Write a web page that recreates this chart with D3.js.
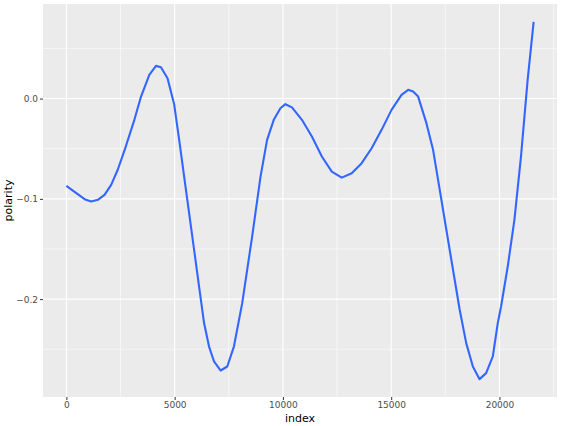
<!DOCTYPE html>
<html>
<head>
<meta charset="utf-8">
<script src="https://cdn.jsdelivr.net/npm/d3@7"></script>
<style>
    body { margin: 0; background: #fff; }
    text { font-family: "DejaVu Sans", sans-serif; }
</style>
</head>
<body>
<div id="chart"></div>
<script>
// smoothed polarity by index
const indexValues = [0, 460, 841, 1149, 1453, 1761, 2069, 2372, 2680, 3140, 3448, 3830, 4138, 4368,
    4671, 4980, 5210, 5439, 5669, 5899, 6129, 6359, 6589, 6819, 7126, 7430, 7737, 8120, 8579,
    8966, 9269, 9577, 9885, 10115, 10418, 10878, 11338, 11798, 12257, 12717, 13177, 13637, 14097,
    14557, 15016, 15476, 15784, 16014, 16244, 16626, 16934, 17242, 17545, 17853, 18161, 18464,
    18772, 19080, 19384, 19692, 19922, 20074, 20382, 20690, 20993, 21301, 21578];
const polarityValues = [-0.0870, -0.0943, -0.1003, -0.1027, -0.1010, -0.0960, -0.0860, -0.0710, -0.0520,
    -0.0212, 0.0020, 0.0236, 0.0326, 0.0313, 0.0203, -0.0060, -0.0412, -0.0778, -0.1143, -0.1508,
    -0.1875, -0.2239, -0.2473, -0.2622, -0.2712, -0.2672, -0.2473, -0.2040, -0.1376, -0.0778,
    -0.0412, -0.0212, -0.0096, -0.0056, -0.0088, -0.0212, -0.0379, -0.0578, -0.0728, -0.0788,
    -0.0744, -0.0644, -0.0495, -0.0312, -0.0113, 0.0037, 0.0087, 0.0070, 0.0020, -0.0245,
    -0.0511, -0.0910, -0.1306, -0.1705, -0.2104, -0.2439, -0.2672, -0.2798, -0.2738, -0.2572,
    -0.2239, -0.2074, -0.1675, -0.1209, -0.0578, 0.0186, 0.0765];
const xTicks = [0, 5000, 10000, 15000, 20000];
const xMinor = [2500, 7500, 12500, 17500, 22500];
const yTicks = [-0.2, -0.1, 0.0];
const yMinor = [-0.25, -0.15, -0.05, 0.05];

const data = indexValues.map((d, i) => ({ index: d, polarity: polarityValues[i] }));

const w = 561;
const h = 426;
const margin = { top: 4, right: 4, bottom: 29, left: 43 };
const pw = w - margin.left - margin.right;
const ph = h - margin.top - margin.bottom;

// ggplot-like 5% expansion
function expand(ext) {
    const pad = (ext[1] - ext[0]) * 0.05;
    return [ext[0] - pad, ext[1] + pad];
}

const xScale = d3.scaleLinear()
    .domain(expand(d3.extent(data, d => d.index)))
    .range([0, pw]);
const yScale = d3.scaleLinear()
    .domain(expand(d3.extent(data, d => d.polarity)))
    .range([ph, 0]);

const svg = d3.select('#chart')
    .append('svg')
    .attr('width', w)
    .attr('height', h);

const g = svg.append('g')
    .attr('transform', `translate(${margin.left}, ${margin.top})`);

g.append('rect')
    .attr('width', pw)
    .attr('height', ph)
    .attr('fill', '#ebebeb');

// Grid
g.selectAll('.xminor')
    .data(xMinor.filter(d => xScale(d) <= pw))
    .enter().append('line')
    .attr('x1', d => xScale(d)).attr('x2', d => xScale(d))
    .attr('y1', 0).attr('y2', ph)
    .attr('stroke', '#fff').attr('stroke-width', 0.55);
g.selectAll('.yminor')
    .data(yMinor)
    .enter().append('line')
    .attr('x1', 0).attr('x2', pw)
    .attr('y1', d => yScale(d)).attr('y2', d => yScale(d))
    .attr('stroke', '#fff').attr('stroke-width', 0.55);
g.selectAll('.xmajor')
    .data(xTicks)
    .enter().append('line')
    .attr('x1', d => xScale(d)).attr('x2', d => xScale(d))
    .attr('y1', 0).attr('y2', ph)
    .attr('stroke', '#fff').attr('stroke-width', 1.1);
g.selectAll('.ymajor')
    .data(yTicks)
    .enter().append('line')
    .attr('x1', 0).attr('x2', pw)
    .attr('y1', d => yScale(d)).attr('y2', d => yScale(d))
    .attr('stroke', '#fff').attr('stroke-width', 1.1);

// Axes
const xAxis = d3.axisBottom(xScale).tickValues(xTicks).tickFormat(d3.format('d')).tickSize(3).tickPadding(2);
const yAxis = d3.axisLeft(yScale).tickValues(yTicks).tickFormat(d3.format('.1f')).tickSize(3).tickPadding(2);

const gx = g.append('g')
    .attr('transform', `translate(0, ${ph})`)
    .call(xAxis);
const gy = g.append('g')
    .call(yAxis);

[gx, gy].forEach(a => {
    a.select('.domain').remove();
    a.selectAll('line').attr('stroke', '#333').attr('stroke-width', 1);
    a.selectAll('text').attr('fill', '#4d4d4d').style('font-size', '9px');
});

// Line
g.append('path')
    .datum(data)
    .attr('fill', 'none')
    .attr('stroke', '#3366ff')
    .attr('stroke-width', 2.1)
    .attr('stroke-linejoin', 'round')
    .attr('d', d3.line().x(d => xScale(d.index)).y(d => yScale(d.polarity)));

// Labels
svg.append('text')
    .attr('x', margin.left + pw / 2)
    .attr('y', h - 4)
    .attr('text-anchor', 'middle')
    .style('font-size', '11px')
    .attr('fill', '#000')
    .text('index');

svg.append('text')
    .attr('transform', `translate(12, ${margin.top + ph / 2}) rotate(-90)`)
    .attr('text-anchor', 'middle')
    .style('font-size', '11px')
    .attr('fill', '#000')
    .text('polarity');
</script>
</body>
</html>
